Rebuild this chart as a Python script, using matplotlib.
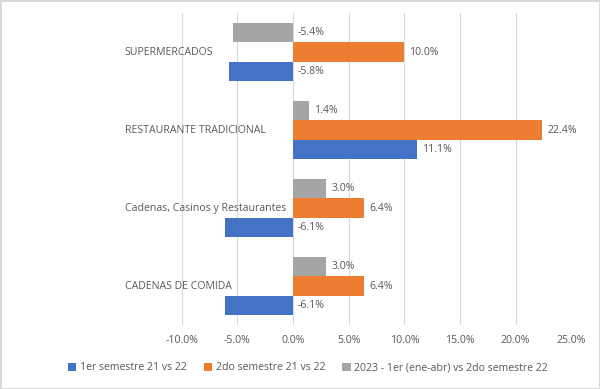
import numpy as np
import matplotlib
matplotlib.use('agg')
import matplotlib.pyplot as plt
from matplotlib.ticker import FuncFormatter

# categories from bottom to top
categories = ['CADENAS DE COMIDA', 'Cadenas, Casinos y Restaurantes',
              'RESTAURANTE TRADICIONAL', 'SUPERMERCADOS']
series_names = ['1er semestre 21 vs 22', '2do semestre 21 vs 22',
                '2023 - 1er (ene-abr) vs 2do semestre 22']
sem1 = [-6.1, -6.1, 11.1, -5.8]
sem2 = [6.4, 6.4, 22.4, 10.0]
y2023 = [3.0, 3.0, 1.4, -5.4]
colors = ['#4472C4', '#ED7D31', '#A5A5A5']

plt.rcParams['font.family'] = ['Open Sans', 'DejaVu Sans']
txt = '#595959'
fs = 7.6

fig = plt.figure(figsize=(6, 3.89), dpi=100)
fig.patch.set_edgecolor('#D9D9D9')
fig.patch.set_linewidth(1)
ax = fig.add_axes([0.303, 0.1645, 0.649, 0.802])

y = np.arange(len(categories))
h = 0.25
for i, (vals, c, name) in enumerate(zip([sem1, sem2, y2023], colors, series_names)):
    pos = y + (i - 1) * h
    ax.barh(pos, vals, height=h, color=c, label=name, zorder=3)
    for p, v in zip(pos, vals):
        ax.text(max(v, 0) + 0.45, p, '%.1f%%' % v, va='center', ha='left',
                fontsize=fs, color=txt)

ax.set_xlim(-10, 25)
ax.set_ylim(-0.5, 3.5)
ax.set_xticks(np.arange(-10, 26, 5))
ax.xaxis.set_major_formatter(FuncFormatter(lambda v, p: '%.1f%%' % v))
ax.set_yticks([])
ax.tick_params(axis='x', length=0, labelsize=fs, colors=txt, pad=7)
ax.grid(axis='x', color='#D9D9D9', linewidth=0.8, zorder=0)
for s in ax.spines.values():
    s.set_visible(False)

for yy, cat in zip(y, categories):
    ax.text(-0.1465, yy, cat, transform=ax.get_yaxis_transform(),
            ha='left', va='center', fontsize=fs, color=txt)

leg = fig.legend(loc='center', bbox_to_anchor=(0.513, 0.054),
                 ncol=3, frameon=False, fontsize=fs, handlelength=0.8, handleheight=0.8,
                 handletextpad=0.35, columnspacing=1.6)
for t in leg.get_texts():
    t.set_color(txt)

plt.savefig('out.png', dpi=100)
